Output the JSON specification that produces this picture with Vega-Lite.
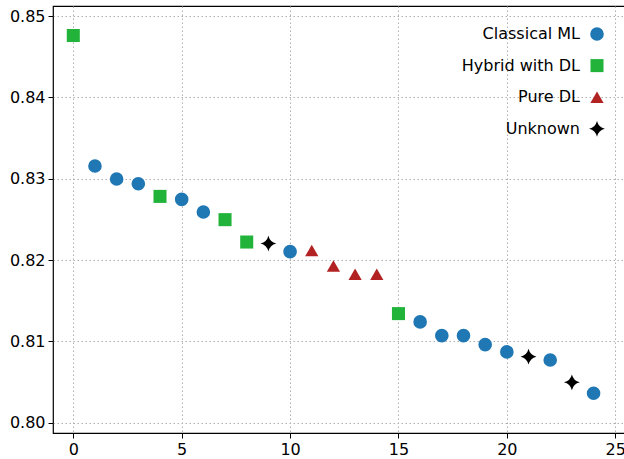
{
  "$schema": "https://vega.github.io/schema/vega-lite/v6.json",
  "width": 572,
  "height": 427,
  "autosize": {"type": "none"},
  "padding": {"left": 53, "top": 6, "right": 0, "bottom": 26},
  "background": "white",
  "config": {
    "font": "DejaVu Sans",
    "view": {"stroke": "#000", "strokeWidth": 1.2},
    "axis": {
      "grid": true,
      "gridDash": [1.5, 2.5],
      "gridColor": "#b0b0b0",
      "gridWidth": 1,
      "tickSize": 5,
      "tickColor": "#000",
      "tickWidth": 1,
      "labelFontSize": 16,
      "labelColor": "#000",
      "labelFont": "DejaVu Sans",
      "domain": false,
      "title": null,
      "labelPadding": 3
    }
  },
  "data": {
    "values": [
      {"x": 0, "y": 0.8476, "type": "Hybrid with DL"},
      {"x": 1, "y": 0.83155, "type": "Classical ML"},
      {"x": 2, "y": 0.82996, "type": "Classical ML"},
      {"x": 3, "y": 0.82938, "type": "Classical ML"},
      {"x": 4, "y": 0.82782, "type": "Hybrid with DL"},
      {"x": 5, "y": 0.82745, "type": "Classical ML"},
      {"x": 6, "y": 0.8259, "type": "Classical ML"},
      {"x": 7, "y": 0.82496, "type": "Hybrid with DL"},
      {"x": 8, "y": 0.82221, "type": "Hybrid with DL"},
      {"x": 9, "y": 0.82202, "type": "Unknown"},
      {"x": 10, "y": 0.82103, "type": "Classical ML"},
      {"x": 11, "y": 0.82116, "type": "Pure DL"},
      {"x": 12, "y": 0.81926, "type": "Pure DL"},
      {"x": 13, "y": 0.81824, "type": "Pure DL"},
      {"x": 14, "y": 0.81824, "type": "Pure DL"},
      {"x": 15, "y": 0.81341, "type": "Hybrid with DL"},
      {"x": 16, "y": 0.81239, "type": "Classical ML"},
      {"x": 17, "y": 0.8107, "type": "Classical ML"},
      {"x": 18, "y": 0.8107, "type": "Classical ML"},
      {"x": 19, "y": 0.80959, "type": "Classical ML"},
      {"x": 20, "y": 0.8087, "type": "Classical ML"},
      {"x": 21, "y": 0.80812, "type": "Unknown"},
      {"x": 22, "y": 0.80771, "type": "Classical ML"},
      {"x": 23, "y": 0.80496, "type": "Unknown"},
      {"x": 24, "y": 0.80361, "type": "Classical ML"}
    ]
  },
  "mark": {"type": "point", "filled": true, "opacity": 1},
  "encoding": {
    "x": {
      "field": "x",
      "type": "quantitative",
      "scale": {"domain": [-0.936, 25.45], "nice": false, "zero": false},
      "axis": {"values": [0, 5, 10, 15, 20, 25], "format": "d"}
    },
    "y": {
      "field": "y",
      "type": "quantitative",
      "scale": {"domain": [0.79873, 0.85123], "nice": false, "zero": false},
      "axis": {"values": [0.8, 0.81, 0.82, 0.83, 0.84, 0.85], "format": ".2f"}
    },
    "color": {
      "field": "type",
      "type": "nominal",
      "scale": {
        "domain": ["Classical ML", "Hybrid with DL", "Pure DL", "Unknown"],
        "range": ["#1f77b4", "#22b43a", "#b22222", "#000000"]
      },
      "legend": {
        "title": null,
        "orient": "none",
        "legendX": 536,
        "legendY": 20,
        "labelAlign": "right",
        "labelOffset": -25,
        "labelFontSize": 16,
        "labelColor": "#000",
        "rowPadding": 15.6,
        "symbolStrokeWidth": 0
      }
    },
    "shape": {
      "field": "type",
      "type": "nominal",
      "scale": {
        "domain": ["Classical ML", "Hybrid with DL", "Pure DL", "Unknown"],
        "range": ["circle", "square", "triangle-up", "M0,-1Q0.2,-0.2,1,0Q0.2,0.2,0,1Q-0.2,0.2,-1,0Q-0.2,-0.2,0,-1Z"]
      }
    },
    "size": {
      "field": "type",
      "type": "nominal",
      "scale": {
        "type": "ordinal",
        "domain": ["Classical ML", "Hybrid with DL", "Pure DL", "Unknown"],
        "range": [185, 170, 175, 250]
      }
    }
  }
}
